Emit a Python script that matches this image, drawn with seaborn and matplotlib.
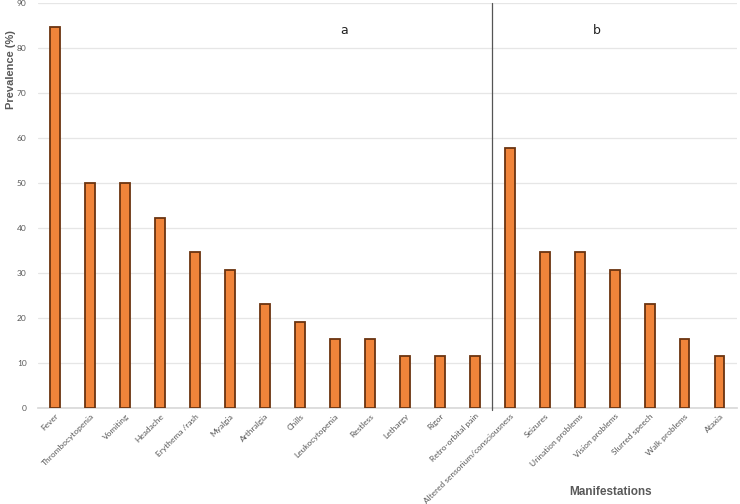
import matplotlib
matplotlib.use("Agg")
import matplotlib.pyplot as plt
import seaborn as sns
import pandas as pd

# dados
manifestacoes = ["Fever", "Thrombocytopenia", "Vomiting", "Headache", "Erythema /rash",
                 "Myalgia", "Arthralgia", "Chills", "Leukocytopenia", "Restless",
                 "Lethargy", "Rigor", "Retro-orbital pain",
                 "Altered sensorium/consciousness", "Seizures", "Urination problems",
                 "Vision problems", "Slurred speech", "Walk problems", "Ataxia"]
prevalencia = [84.6, 50.0, 50.0, 42.3, 34.6, 30.8, 23.1, 19.2, 15.4, 15.4,
               11.5, 11.5, 11.5,
               57.7, 34.6, 34.6, 30.8, 23.1, 15.4, 11.5]
grupo_a = 13  # primeiras 13 categorias = painel a

df = pd.DataFrame({"Manifestacao": manifestacoes, "Prevalencia": prevalencia})

sns.set_theme(style="white")
plt.rcParams['font.family'] = ['Lato', 'DejaVu Sans']

fig = plt.figure(figsize=(7.4, 5.04), dpi=100)
ax = fig.add_axes([0.051, 0.190, 0.945, 0.804])

sns.barplot(data=df, x="Manifestacao", y="Prevalencia", ax=ax, width=0.28,
            color="#f0843a", saturation=1, edgecolor="#6b3410", linewidth=1.3,
            zorder=3)

ax.set_ylim(0, 90)
ax.set_xlim(-0.5, len(manifestacoes) - 0.5)
ax.set_yticks(range(0, 91, 10))
ax.yaxis.grid(True, color="#e6e6e6", linewidth=0.9, zorder=0)
ax.set_axisbelow(True)
for s in ["top", "right", "left"]:
    ax.spines[s].set_visible(False)
ax.spines["bottom"].set_color("#d9d9d9")

ax.tick_params(axis="y", labelsize=6, colors="#595959", length=0, pad=8)
ax.tick_params(axis="x", labelsize=6, colors="#595959", length=0, pad=3)
plt.setp(ax.get_xticklabels(), rotation=45, ha="right", rotation_mode="anchor")

# divisor entre a e b
ax.axvline(grupo_a - 0.5, ymin=-0.005, ymax=1, color="#555555", linewidth=0.9,
           clip_on=False, zorder=4)
ax.text(8.25, 84, "a", fontsize=9, ha="center", va="center", color="#222222",
        family="DejaVu Sans")
ax.text(15.5, 84, "b", fontsize=9, ha="center", va="center", color="#222222",
        family="DejaVu Sans")

ax.set_ylabel("Prevalence (%)", fontsize=8, fontweight="bold", color="#595959",
              family="Liberation Sans")
ax.yaxis.set_label_coords(-0.031, 0.835)
ax.set_xlabel("")
fig.text(0.825, 0.018, "Manifestations", fontsize=8.5, fontweight="bold",
         color="#595959", ha="center", family="Liberation Sans")

fig.savefig("out.png", dpi=100)
